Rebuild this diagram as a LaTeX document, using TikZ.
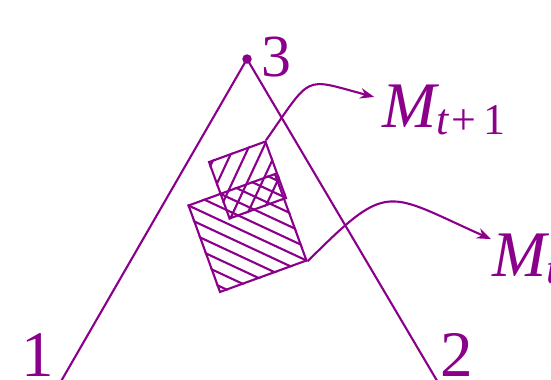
\documentclass[tikz,border=0pt]{standalone}
\usepackage{fontspec}
\setmainfont{Liberation Serif}
\usepackage{xcolor}
\usetikzlibrary{arrows.meta}
\definecolor{mviolet}{RGB}{139,0,139}
% italic letter with a lowered index, set as text
\newcommand{\idx}[2]{{\itshape #1}\raisebox{-4.5pt}{\fontsize{25}{29}\selectfont #2}}

\begin{document}
\begin{tikzpicture}[mviolet, line width=1.2pt, >={Stealth[length=8pt, width=6pt]},
    lbl/.style={inner sep=0pt, font=\fontsize{37}{44}\selectfont},
    sq/.style={draw, inner sep=0pt, minimum size=#1}]
  \useasboundingbox (0,0) rectangle (11.02,7.58);
  % apex and the two sides
  \node[circle, fill, inner sep=0pt, minimum size=0.19cm] (apex) at (4.94,6.40) {};
  \coordinate (foot1) at (1.12,-0.22);
  \coordinate (foot2) at (8.85,-0.22);
  \draw (foot1) -- (apex.center) -- (foot2);
  \node[lbl] (l1) at (0.76,0.48) {1};
  \node[lbl] (l2) at (9.14,0.48) {2};
  \node[lbl, font=\fontsize{34}{40}\selectfont] (l3) at (5.53,6.44) {3};
  % big square
  \begin{scope}[shift={(4.95,2.92)}, rotate=20, transform shape]
    \node[sq=1.84cm] (big) {};
    \begin{scope}
      \clip (big.south west) -- (big.south east) -- (big.north east) -- (big.north west) -- cycle;
      \foreach \k in {-6,...,6}
        \draw ({\k*0.34+1.5},-1.5) -- ({\k*0.34-1.5},1.5);
    \end{scope}
  \end{scope}
  % small square
  \begin{scope}[shift={(4.95,3.98)}, rotate=20, transform shape]
    \node[sq=1.2cm] (small) {};
    \begin{scope}
      \clip (small.south west) -- (small.south east) -- (small.north east) -- (small.north west) -- cycle;
      \foreach \k in {-4,...,4}
        \draw ({\k*0.38+0.02-1},-1) -- ({\k*0.38+0.02+1},1);
    \end{scope}
  \end{scope}
  \node[lbl, anchor=base west] (mt1) at (7.62,5.04) {\idx{M}{\itshape t\kern2pt\upshape +\kern4pt 1}};
  \node[lbl, anchor=base west] (mt) at (9.82,2.06) {\idx{M}{\itshape t}};
  \path[->]
    (small.north east) edge[out=55, in=165, looseness=1.7, shorten >=4pt] (mt1.170)
    (big.south east) edge[out=45, in=156, looseness=1.6] (mt.150);
\end{tikzpicture}
\end{document}
